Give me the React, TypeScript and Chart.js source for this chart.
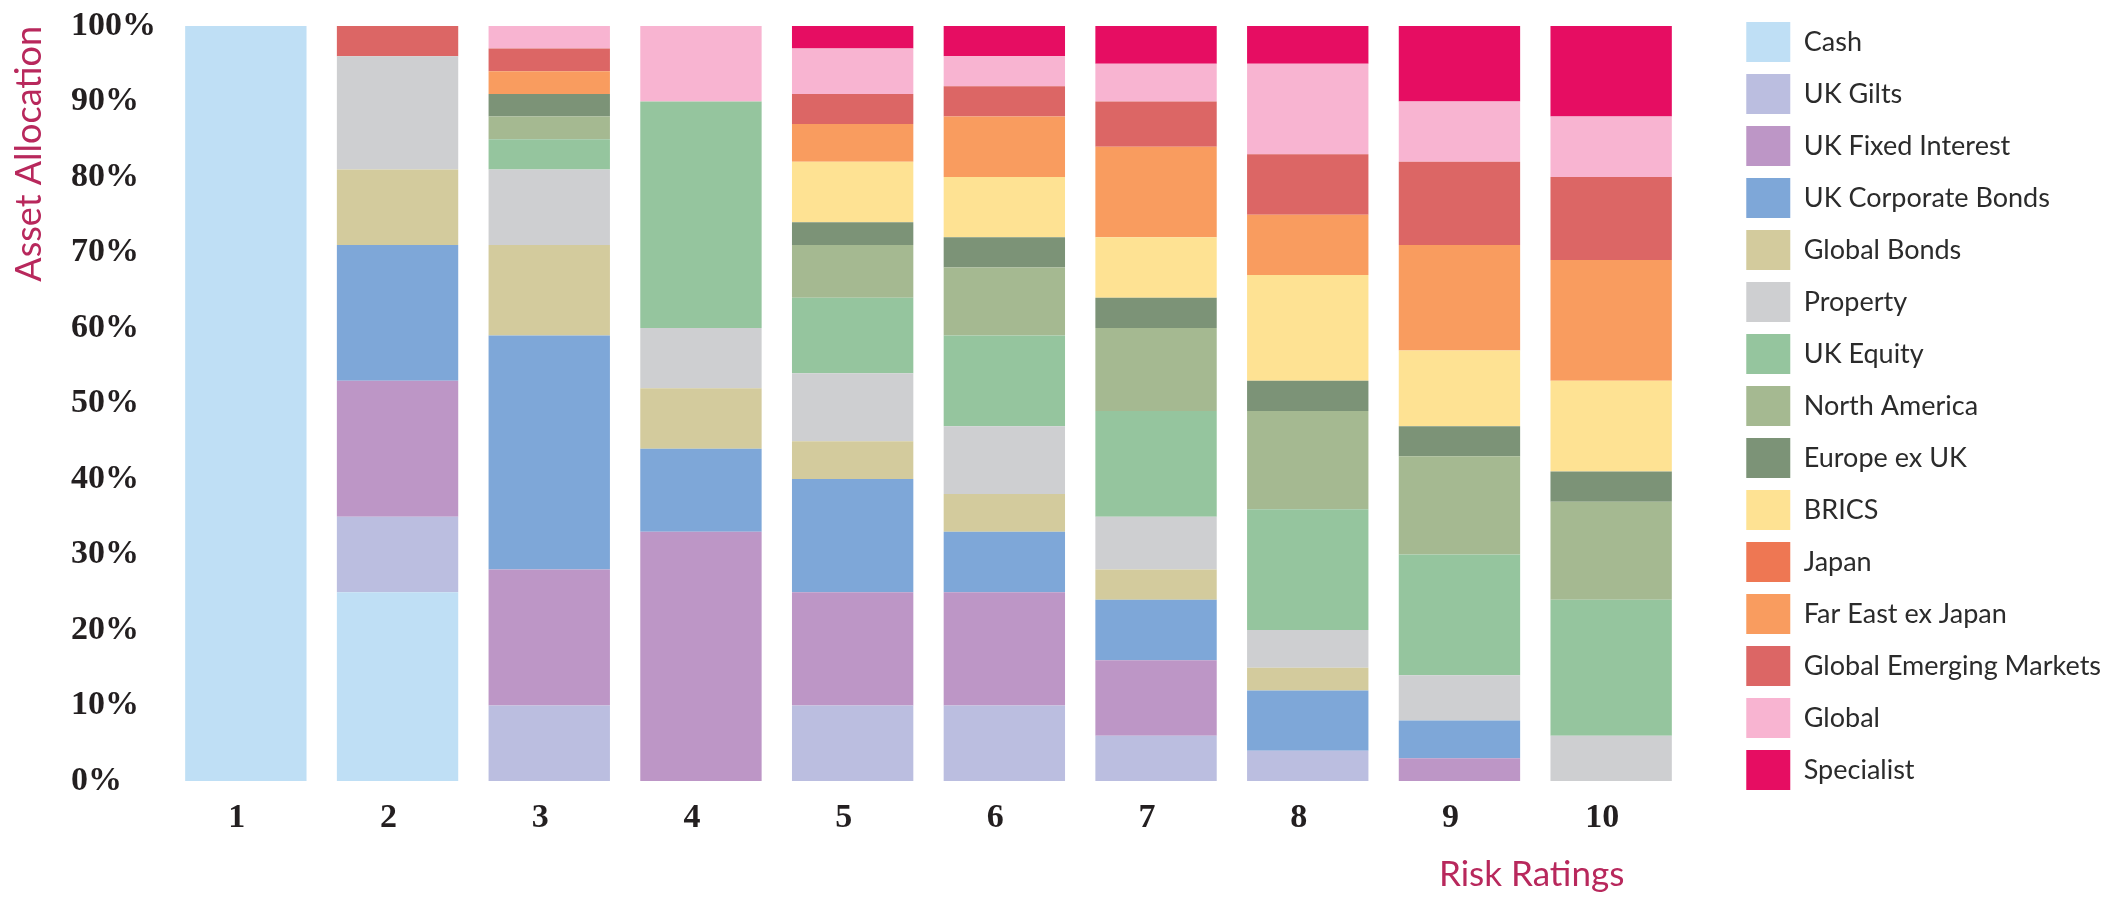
import React, { useEffect, useRef } from 'react';
import { Chart, registerables } from 'chart.js';

Chart.register(...registerables);

// ---------- data ----------
const categories = ['1', '2', '3', '4', '5', '6', '7', '8', '9', '10'];

const seriesNames = [
  'Cash',
  'UK Gilts',
  'UK Fixed Interest',
  'UK Corporate Bonds',
  'Global Bonds',
  'Property',
  'UK Equity',
  'North America',
  'Europe ex UK',
  'BRICS',
  'Japan',
  'Far East ex Japan',
  'Global Emerging Markets',
  'Global',
  'Specialist',
];

const cash = [100, 25, 0, 0, 0, 0, 0, 0, 0, 0];
const ukGilts = [0, 10, 10, 0, 10, 10, 6, 4, 0, 0];
const ukFixedInterest = [0, 18, 18, 33, 15, 15, 10, 0, 3, 0];
const ukCorporateBonds = [0, 18, 31, 11, 15, 8, 8, 8, 5, 0];
const globalBonds = [0, 10, 12, 8, 5, 5, 4, 3, 0, 0];
const property = [0, 15, 10, 8, 9, 9, 7, 5, 6, 6];
const ukEquity = [0, 0, 4, 30, 10, 12, 14, 16, 16, 18];
const northAmerica = [0, 0, 3, 0, 7, 9, 11, 13, 13, 13];
const europeExUK = [0, 0, 3, 0, 3, 4, 4, 4, 4, 4];
const brics = [0, 0, 0, 0, 8, 8, 8, 14, 10, 12];
const japan = [0, 0, 0, 0, 0, 0, 0, 0, 0, 0];
const farEastExJapan = [0, 0, 3, 0, 5, 8, 12, 8, 14, 16];
const globalEmergingMarkets = [0, 4, 3, 0, 4, 4, 6, 8, 11, 11];
const globalEquity = [0, 0, 3, 10, 6, 4, 5, 12, 8, 8];
const specialist = [0, 0, 0, 0, 3, 4, 5, 5, 10, 12];

const seriesValues = [
  cash,
  ukGilts,
  ukFixedInterest,
  ukCorporateBonds,
  globalBonds,
  property,
  ukEquity,
  northAmerica,
  europeExUK,
  brics,
  japan,
  farEastExJapan,
  globalEmergingMarkets,
  globalEquity,
  specialist,
];

const seriesColors = [
  '#bfdff5',
  '#bbbee0',
  '#bd96c6',
  '#7ea7d8',
  '#d3cb9d',
  '#cecfd1',
  '#95c59e',
  '#a5b991',
  '#7c9377',
  '#fee293',
  '#ee7753',
  '#f99c5f',
  '#dc6665',
  '#f8b4d1',
  '#e60d62',
];

const yTickStep = 10;
const yMin = 0;
const yMax = 100;

// ---------- layout constants ----------
const W = 2125;
const H = 898;
const PAD_RIGHT = 14;
const PLOT_RIGHT = 1687;
const TITLE_COLOR = '#b8285c';
const TEXT_COLOR = '#231f20';

export default function App() {
  const canvasRef = useRef<HTMLCanvasElement | null>(null);

  useEffect(() => {
    const canvas = canvasRef.current;
    if (!canvas) return;

    const datasets = seriesNames.map((name, i) => ({
      label: name,
      data: seriesValues[i],
      backgroundColor: seriesColors[i],
      borderWidth: 0,
      categoryPercentage: 1.0,
      barPercentage: 0.8,
    }));

    const chart = new Chart(canvas, {
      type: 'bar',
      data: { labels: categories, datasets },
      options: {
        responsive: false,
        animation: false,
        devicePixelRatio: 1,
        layout: { padding: { top: 10, left: 0, right: PAD_RIGHT, bottom: 0 } },
        plugins: {
          tooltip: { enabled: false },
          legend: {
            position: 'right',
            align: 'start',
            maxWidth: 500,
            labels: {
              boxWidth: 44,
              boxHeight: 40,
              padding: 12,
              color: '#2b2b2b',
              font: { family: 'Lato', size: 27 },
            },
          },
        },
        scales: {
          x: {
            stacked: true,
            grid: { display: false, drawTicks: false },
            border: { display: false },
            ticks: {
              color: TEXT_COLOR,
              padding: 17,
              labelOffset: -9,
              font: { family: 'Liberation Serif', size: 34, weight: 'bold', lineHeight: 1.2 },
            },
            title: {
              display: true,
              text: 'Risk Ratings       ',
              align: 'end',
              color: TITLE_COLOR,
              font: { family: 'Lato', size: 35, lineHeight: 1.2 },
              padding: { top: 0, bottom: 2 },
            },
            afterFit: (s: any) => {
              s.height = 117;
            },
          },
          y: {
            stacked: true,
            min: yMin,
            max: yMax,
            weight: 0,
            grid: { display: false, drawTicks: false },
            border: { display: false },
            ticks: {
              stepSize: yTickStep,
              crossAlign: 'far',
              color: TEXT_COLOR,
              font: { family: 'Liberation Serif', size: 34, weight: 'bold', lineHeight: 1.35 },
              callback: (v: any) => `${v}%`,
            },
            afterFit: (s: any) => {
              s.width = 99;
            },
          },
          yTitle: {
            type: 'linear',
            position: 'left',
            weight: 1,
            grid: { display: false, drawTicks: false },
            border: { display: false },
            ticks: { display: false },
            title: {
              display: true,
              text: 'Asset Allocation',
              align: 'end',
              color: TITLE_COLOR,
              font: { family: 'Lato', size: 36, lineHeight: 1.2 },
              padding: { top: 8, bottom: 0 },
            },
            afterFit: (s: any) => {
              s.width = 71;
            },
          },
          yGap: {
            type: 'linear',
            position: 'right',
            grid: { display: false, drawTicks: false },
            border: { display: false },
            ticks: { display: false },
            afterFit: (s: any) => {
              const lg = s.chart.legend;
              const legendLeft = W - PAD_RIGHT - (lg ? lg.width : 0);
              s.width = Math.max(0, legendLeft - PLOT_RIGHT);
            },
          },
        },
      } as any,
    });

    return () => {
      chart.destroy();
    };
  }, []);

  return (
    <div style={{ position: 'fixed', left: 0, top: 0, width: W, height: H, background: '#ffffff' }}>
      <canvas ref={canvasRef} width={W} height={H} style={{ display: 'block', width: W, height: H }} />
    </div>
  );
}
